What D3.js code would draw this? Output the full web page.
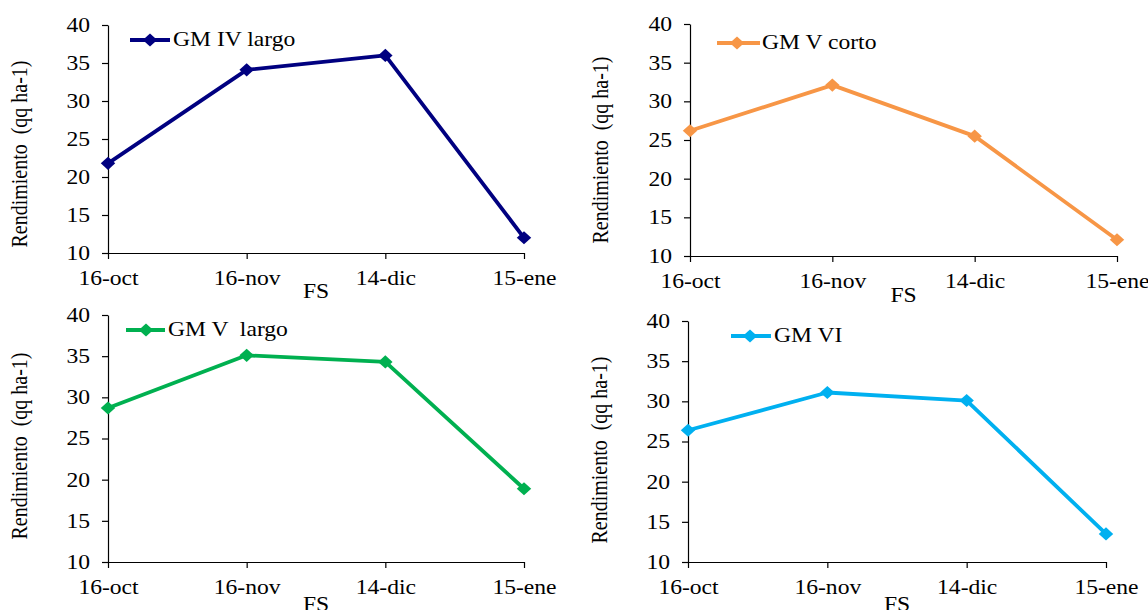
<!DOCTYPE html>
<html><head><meta charset="utf-8">
<script src="https://cdn.jsdelivr.net/npm/d3@7"></script>
<style>body{margin:0;background:#fff}svg{display:block}text{font-family:"Liberation Serif","Times New Roman",serif;font-size:20px;fill:#000}</style>
</head><body><svg id="c" width="1148" height="610"></svg>
<script>
const categories = ["16-oct","16-nov","14-dic","15-ene"];
const seriesNames = ["GM IV largo","GM V corto","GM V  largo","GM VI"];
const gmIVlargo = [21.8,34.1,36.0,12.0];
const gmVcorto = [26.2,32.1,25.5,12.1];
const gmVlargo = [28.7,35.1,34.3,18.9];
const gmVI = [26.4,31.1,30.1,13.5];
const yTicks = [10,15,20,25,30,35,40];
const colors = ["#000080","#F79646","#00B050","#00B0F0"];
const yTitle = "Rendimiento  (qq ha-1)";
const xTitle = "FS";

const layouts = [
 {x0:108,x1:524,yT:25,yB:253,lg:[130,170,150,40,173],tt:[20,154],fs:298},
 {x0:690,x1:1117,yT:24,yB:256,lg:[717,760,737,43,762],tt:[601,150],fs:302},
 {x0:108,x1:524,yT:315,yB:562,lg:[126,165,146,330,168],tt:[20,446],fs:611},
 {x0:688,x1:1106,yT:321,yB:562,lg:[731,771,750,336,774],tt:[600,450],fs:611}
];
const series = [gmIVlargo,gmVcorto,gmVlargo,gmVI];
const SX = 1.18;
const svg = d3.select("#c");
const diamond = d3.symbol().type(d3.symbolDiamond2).size(110);

layouts.forEach((L,i)=>{
  const data = series[i];
  const x = d3.scalePoint().domain(categories).range([L.x0,L.x1]);
  const y = d3.scaleLinear().domain([10,40]).range([L.yB,L.yT]);
  const g = svg.append("g");
  const ax = g.append("g").attr("transform",`translate(0,${L.yB})`)
    .call(d3.axisBottom(x).tickSize(6).tickSizeOuter(0).tickPadding(12));
  const ay = g.append("g").attr("transform",`translate(${L.x0},0)`)
    .call(d3.axisLeft(y).tickValues(yTicks).tickSize(6).tickSizeOuter(0));
  [ax,ay].forEach(a=>{
    a.select(".domain").attr("stroke","#000").attr("stroke-width",1.2);
    a.selectAll("line").attr("stroke","#000").attr("stroke-width",1.2);
    a.selectAll("text").attr("font-size",20).attr("font-family","Liberation Serif").attr("fill","#000");
  });
  ax.selectAll("text").attr("transform",`scale(${SX},1)`);
  ay.selectAll("text").attr("x",-18/SX).attr("transform",`scale(${SX},1)`);
  const line = d3.line().x((d,j)=>x(categories[j])).y(d=>y(d));
  g.append("path").datum(data).attr("d",line).attr("fill","none")
    .attr("stroke",colors[i]).attr("stroke-width",3.8).attr("stroke-linejoin","round");
  g.selectAll(".pt").data(data).enter().append("path")
    .attr("d",diamond).attr("fill",colors[i])
    .attr("transform",(d,j)=>`translate(${x(categories[j])},${y(d)}) scale(1.1,1)`);
  const [lx1,lx2,mx,my,tx] = L.lg;
  g.append("line").attr("x1",lx1).attr("x2",lx2).attr("y1",my).attr("y2",my)
    .attr("stroke",colors[i]).attr("stroke-width",3.8);
  g.append("path").attr("d",diamond).attr("fill",colors[i])
    .attr("transform",`translate(${mx},${my}) scale(1.1,1)`);
  g.append("text").attr("transform",`translate(${tx},${my+6}) scale(${SX},1)`)
    .style("white-space","pre").text(seriesNames[i]);
  g.append("text").attr("text-anchor","middle")
    .attr("transform",`translate(${(L.x0+L.x1)/2},${L.fs}) scale(${SX},1)`).text(xTitle);
  g.append("text").attr("text-anchor","middle").style("white-space","pre")
    .attr("transform",`translate(${L.tt[0]+7},${L.tt[1]}) rotate(-90) scale(1,${SX})`).text(yTitle);
});
</script></body></html>
